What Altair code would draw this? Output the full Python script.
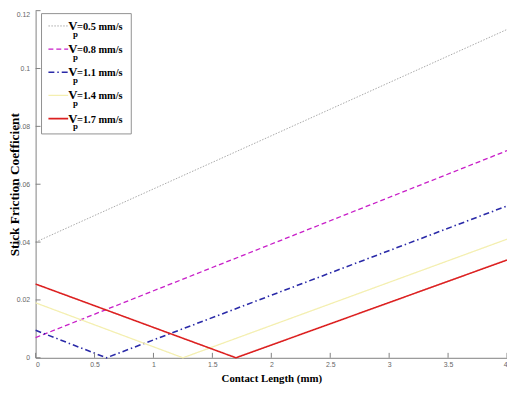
import altair as alt
import pandas as pd

# ---- data ----
series = ["0.5", "0.8", "1.1", "1.4", "1.7"]
x_05 = [0.0, 4.0]
y_05 = [0.040, 0.1135]
x_08 = [0.0, 4.0]
y_08 = [0.007, 0.0716]
x_11 = [0.0, 0.6, 4.0]
y_11 = [0.0095, 0.0, 0.0525]
x_14 = [0.0, 1.25, 4.0]
y_14 = [0.019, 0.0, 0.041]
x_17 = [0.0, 1.7, 4.0]
y_17 = [0.0255, 0.0, 0.0338]

x_ticks = [0, 0.5, 1, 1.5, 2, 2.5, 3, 3.5, 4]
y_ticks = [0, 0.02, 0.04, 0.06, 0.08, 0.1, 0.12]

xs = [x_05, x_08, x_11, x_14, x_17]
ys = [y_05, y_08, y_11, y_14, y_17]

rows = []
for s, xv, yv in zip(series, xs, ys):
    for a, b in zip(xv, yv):
        rows.append({"series": s, "x": a, "y": b})
df = pd.DataFrame(rows)

# ---- styles ----
colors = ["#a8a8a8", "#c81ec8", "#2a2aa8", "#f4efb0", "#dc2020"]
dashes = [[1.5, 1.5], [5, 3], [6, 3, 1.5, 3], [1, 0], [1, 0]]
widths = [1.0, 1.3, 1.6, 1.3, 1.6]

W, H = 478, 352
xs_scale = alt.Scale(domain=[0, 4], nice=False, zero=False)
ys_scale = alt.Scale(domain=[0, 0.12], nice=False, zero=False)

label_font = "Liberation Sans"
serif = "Liberation Serif"

x_axis = alt.Axis(
    values=x_ticks, format="~g", grid=False, ticks=False,
    domainColor="#808080", labelColor="#666666", labelFont=label_font,
    labelFontSize=7, labelPadding=3,
    title="Contact Length (mm)", titleFont=serif, titleFontSize=11,
    titleFontWeight="bold", titleColor="#000000", titleY=24,
    titleBaseline="alphabetic",
)
y_axis = alt.Axis(
    values=y_ticks, grid=False, ticks=False,
    labelExpr="datum.value >= 0.119 ? '0.12' : format(datum.value, '~g')",
    domainColor="#808080", labelColor="#666666", labelFont=label_font,
    labelFontSize=7, labelPadding=6,
    labelBaseline={"condition": {"test": "datum.value >= 0.119", "value": "top"}, "value": "middle"},
    title="Stick Friction Coefficient", titleFont=serif, titleFontSize=13.5,
    titleFontWeight="bold", titleColor="#000000", titleX=-17,
    titleBaseline="alphabetic",
)

layers = []
# base layer carrying both axes
layers.append(
    alt.Chart(df).mark_line(opacity=0).encode(
        x=alt.X("x:Q", scale=xs_scale, axis=x_axis),
        y=alt.Y("y:Q", scale=ys_scale, axis=y_axis),
        detail="series:N",
    )
)
for i, s in enumerate(series):
    d = df[df.series == s]
    layers.append(
        alt.Chart(d).mark_line(
            color=colors[i], strokeDash=dashes[i], strokeWidth=widths[i]
        ).encode(
            x=alt.X("x:Q", scale=xs_scale, axis=x_axis),
            y=alt.Y("y:Q", scale=ys_scale, axis=y_axis),
        )
    )

# inward ticks
tx = pd.DataFrame({"x": x_ticks})
ty = pd.DataFrame({"y": y_ticks})
layers.append(
    alt.Chart(tx).mark_rule(color="#808080", strokeWidth=1).encode(
        x=alt.X("x:Q", scale=xs_scale, axis=x_axis), y=alt.value(H), y2=alt.value(H - 5)
    )
)
layers.append(
    alt.Chart(ty).mark_rule(color="#808080", strokeWidth=1).encode(
        y=alt.Y("y:Q", scale=ys_scale, axis=y_axis), x=alt.value(0), x2=alt.value(5)
    )
)

# legend (manual, to show the subscript p)
one = pd.DataFrame({"a": [0]})
box_x0, box_x1, box_y0, box_y1 = 6, 97, 3, 125
layers.append(
    alt.Chart(one).mark_rect(fill="white", stroke="#909090", strokeWidth=1).encode(
        x=alt.value(box_x0), x2=alt.value(box_x1), y=alt.value(box_y0), y2=alt.value(box_y1)
    )
)
row0, step = 15.5, 23.5
for i, s in enumerate(series):
    yc = row0 + i * step
    layers.append(
        alt.Chart(one).mark_rule(
            color=colors[i], strokeDash=dashes[i], strokeWidth=widths[i]
        ).encode(x=alt.value(13), x2=alt.value(33), y=alt.value(yc), y2=alt.value(yc))
    )
    layers.append(
        alt.Chart(one).mark_text(
            font=serif, fontWeight="bold", fontSize=13, align="left",
            baseline="alphabetic", color="#000000"
        ).encode(x=alt.value(33), y=alt.value(yc + 4), text=alt.value("V"))
    )
    layers.append(
        alt.Chart(one).mark_text(
            font=serif, fontWeight="bold", fontSize=9, align="left",
            baseline="alphabetic", color="#000000"
        ).encode(x=alt.value(38), y=alt.value(yc + 11), text=alt.value("p"))
    )
    layers.append(
        alt.Chart(one).mark_text(
            font=serif, fontWeight="bold", fontSize=10.5, align="left",
            baseline="alphabetic", color="#000000"
        ).encode(x=alt.value(42), y=alt.value(yc + 4), text=alt.value("=" + s + " mm/s"))
    )

chart = alt.layer(*layers).properties(
    width=W, height=H,
    autosize=alt.AutoSizeParams(type="none"),
    padding={"left": 28, "top": 0, "right": 0, "bottom": 33},
).configure_view(stroke=None)

chart.save("out.html", embed_options={"renderer": "svg", "actions": False})
